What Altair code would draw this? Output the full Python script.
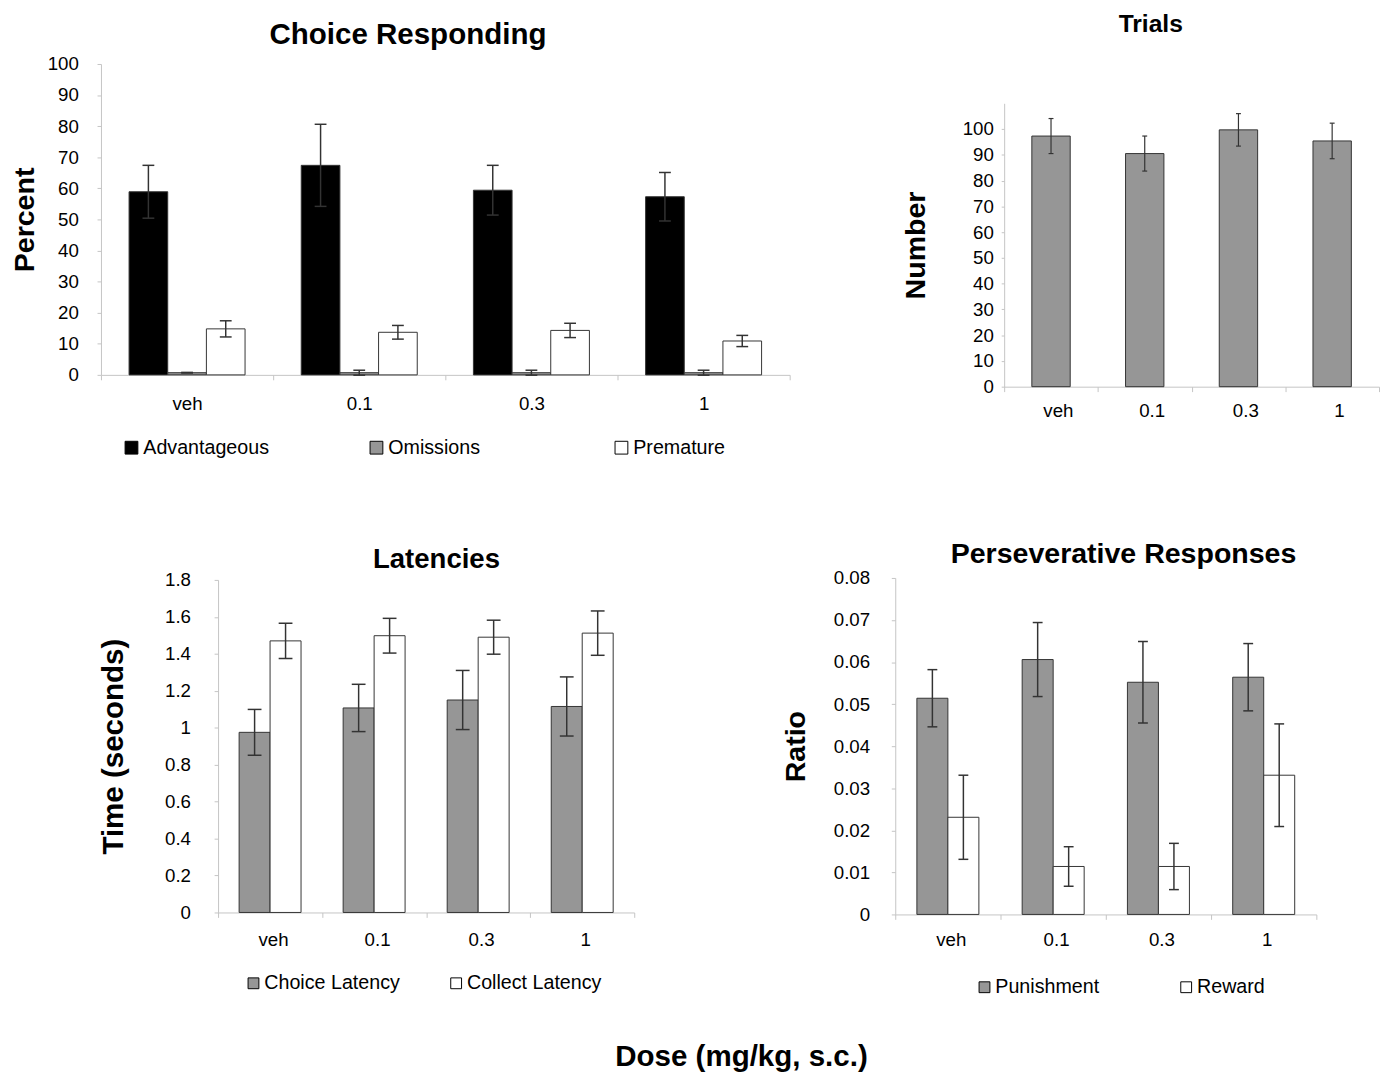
import altair as alt
import pandas as pd

doses = ["veh", "0.1", "0.3", "1"]

# Choice Responding (percent)
cr_series = ["Advantageous", "Omissions", "Premature"]
cr_colors = ["#000000", "#969696", "#ffffff"]
adv_mean = [58.9, 67.4, 59.4, 57.3]
adv_sem = [8.5, 13.2, 8.0, 7.8]
omi_mean = [0.7, 0.7, 0.7, 0.7]
omi_sem = [0.1, 0.8, 0.8, 0.8]
pre_mean = [14.8, 13.7, 14.3, 10.9]
pre_sem = [2.6, 2.2, 2.3, 1.8]
cr_yticks = [0, 10, 20, 30, 40, 50, 60, 70, 80, 90, 100]

# Trials (number)
tr_series = ["Trials"]
tr_colors = ["#969696"]
tr_mean = [97.3, 90.5, 99.7, 95.4]
tr_sem = [6.8, 6.8, 6.3, 6.9]
tr_yticks = [0, 10, 20, 30, 40, 50, 60, 70, 80, 90, 100]

# Latencies (seconds)
lat_series = ["Choice Latency", "Collect Latency"]
lat_colors = ["#969696", "#ffffff"]
choice_mean = [0.975, 1.107, 1.150, 1.115]
choice_sem = [0.124, 0.128, 0.160, 0.160]
collect_mean = [1.470, 1.498, 1.490, 1.512]
collect_sem = [0.095, 0.094, 0.092, 0.120]
lat_yticks = [0, 0.2, 0.4, 0.6, 0.8, 1.0, 1.2, 1.4, 1.6, 1.8]

# Perseverative Responses (ratio)
per_series = ["Punishment", "Reward"]
per_colors = ["#969696", "#ffffff"]
pun_mean = [0.0514, 0.0606, 0.0552, 0.0564]
pun_sem = [0.0068, 0.0088, 0.0097, 0.0080]
rew_mean = [0.0231, 0.0114, 0.0114, 0.0331]
rew_sem = [0.0100, 0.0047, 0.0055, 0.0122]
per_yticks = [0, 0.01, 0.02, 0.03, 0.04, 0.05, 0.06, 0.07, 0.08]

FONT = "Liberation Sans"
AXIS_GRAY = "#c4c4c4"
ERR = "#333333"
LABEL_FS = 19


def make_panel(series, means, sems, colors, o):
    rows = []
    for name, m_list, s_list in zip(series, means, sems):
        for d, m, s in zip(doses, m_list, s_list):
            rows.append(dict(dose=d, series=name, mean=m, lo=m - s, hi=m + s))
    df = pd.DataFrame(rows)
    base = alt.Chart(df)

    x = alt.X(
        "dose:N", sort=doses, title=None,
        scale=alt.Scale(paddingInner=0, paddingOuter=0),
        axis=alt.Axis(labelAngle=0, tickBand="extent", tickSize=5,
                      labelPadding=o["xlp"], labelOffset=o["xlo"],
                      domainColor=AXIS_GRAY,
                      tickColor=AXIS_GRAY, labelFont=FONT,
                      labelFontSize=LABEL_FS, labelColor="#000", grid=False),
    )
    xo = alt.XOffset("series:N", sort=series,
                     scale=alt.Scale(paddingInner=0, paddingOuter=o["po"]))
    yscale = alt.Scale(domain=o["ydomain"], nice=False, zero=True)
    yaxis = alt.Axis(values=o["yticks"], format=o["yfmt"], tickSize=o["yts"],
                     labelPadding=o["ylp"], title=o["ytitle"], titleFont=FONT,
                     titleFontSize=o["ytfs"], titleFontWeight="bold",
                     titleColor="#000", titlePadding=o["ytp"],
                     domainColor=AXIS_GRAY, tickColor=AXIS_GRAY,
                     labelFont=FONT, labelFontSize=LABEL_FS, labelColor="#000",
                     grid=False)

    def Y(field):
        return alt.Y(f"{field}:Q", scale=yscale, axis=yaxis, stack=None)

    if o.get("legend"):
        lg = o["legend"]
        legend = alt.Legend(orient="none", legendX=lg["x"], legendY=lg["y"],
                            direction="horizontal", title=None,
                            symbolType="square", symbolSize=lg["ss"],
                            symbolStrokeColor="#000", symbolStrokeWidth=1,
                            labelFont=FONT, labelFontSize=20,
                            labelColor="#000", columnPadding=lg["cp"],
                            gridAlign=lg["ga"], labelOffset=lg["lo"],
                            padding=0)
    else:
        legend = None
    color = alt.Color("series:N", sort=series,
                      scale=alt.Scale(domain=series, range=colors),
                      legend=legend)

    bars = base.mark_bar(stroke="#333333", strokeWidth=1, opacity=1).encode(
        x=x, xOffset=xo, y=Y("mean"), color=color)
    rules = base.mark_rule(color=ERR, strokeWidth=o["ew"], opacity=1).encode(
        x=x, xOffset=xo, y=Y("lo"), y2="hi:Q")
    cap_hi = base.mark_tick(color=ERR, orient="horizontal", size=o["cap"],
                            thickness=o["ew"], opacity=1).encode(
        x=x, xOffset=xo, y=Y("hi"))
    cap_lo = base.mark_tick(color=ERR, orient="horizontal", size=o["cap"],
                            thickness=o["ew"], opacity=1).encode(
        x=x, xOffset=xo, y=Y("lo"))

    return alt.layer(bars, rules, cap_hi, cap_lo).properties(
        width=o["w"], height=o["h"],
        title=alt.TitleParams(text=o["title"], font=FONT, fontSize=o["tfs"],
                              fontWeight="bold", color="#000",
                              anchor="middle", frame="group", dx=o["tdx"],
                              offset=o["toff"]),
    )


def spacer(w, h):
    return alt.Chart(pd.DataFrame({"s": [0]})).mark_point(
        opacity=0, size=1).properties(width=w, height=h)


def indep(c):
    return c.resolve_scale(x="independent", y="independent",
                           xOffset="independent", color="independent"
                           ).resolve_axis(x="independent", y="independent"
                           ).resolve_legend(color="independent")


p1 = make_panel(
    cr_series, [adv_mean, omi_mean, pre_mean], [adv_sem, omi_sem, pre_sem],
    cr_colors,
    dict(w=700, h=316, ydomain=[0, 100], yticks=cr_yticks, yfmt="d", yts=4,
         ylp=19, ytitle="Percent", ytfs=29, ytp=7.5, xlp=15, xlo=0,
         po=0.7265, title="Choice Responding", tfs=30, tdx=-38, toff=5.5,
         cap=12, ew=1.5,
         legend=dict(x=21, y=380, ss=169, cp=99, ga="all", lo=2)))

p2 = make_panel(
    tr_series, [tr_mean], [tr_sem], tr_colors,
    dict(w=381, h=288, ydomain=[0, 110], yticks=tr_yticks, yfmt="d", yts=3,
         ylp=8, ytitle="Number", ytfs=29, ytp=32, xlp=10, xlo=7, po=0.721,
         title="Trials", tfs=25, tdx=-41.5, toff=67.4, cap=5, ew=1.2,
         legend=None))

p3 = make_panel(
    lat_series, [choice_mean, collect_mean], [choice_sem, collect_sem],
    lat_colors,
    dict(w=423, h=338, ydomain=[0, 1.8], yticks=lat_yticks, yfmt=".1~f",
         yts=4, ylp=24, ytitle="Time (seconds)", ytfs=30, ytp=37, xlp=14,
         xlo=3, po=0.68, title="Latencies", tfs=28, tdx=10.5, toff=-3,
         cap=14, ew=1.5,
         legend=dict(x=26, y=400, ss=121, cp=47, ga="each", lo=1)))

p4 = make_panel(
    per_series, [pun_mean, rew_mean], [pun_sem, rew_sem], per_colors,
    dict(w=428, h=342, ydomain=[0, 0.08], yticks=per_yticks, yfmt=".2~f",
         yts=4, ylp=22, ytitle="Ratio", ytfs=29, ytp=23, xlp=12, xlo=3,
         po=0.698, title="Perseverative Responses", tfs=29, tdx=18,
         toff=0.4, cap=10, ew=1.5,
         legend=dict(x=80.7, y=406, ss=121, cp=78, ga="each", lo=1)))

# layout: every group starts with an invisible spacer so that rows and
# columns line up on the panels' outer edges
col1 = indep(alt.vconcat(spacer(1, 8.9), p1, spacing=0))
col2 = indep(alt.vconcat(spacer(1, 1), p2, spacing=0))
inner1 = indep(alt.hconcat(col1, col2, spacing=113))
row1 = indep(alt.hconcat(spacer(1, 1), inner1, spacing=0))

col3 = indep(alt.vconcat(spacer(1, 7.4), p3, spacing=0))
col4 = indep(alt.vconcat(spacer(1, 1), p4, spacing=0))
inner2 = indep(alt.hconcat(col3, col4, spacing=149.3))
row2 = indep(alt.hconcat(spacer(90, 1), inner2, spacing=0))

chart = indep(alt.vconcat(
    row1, row2, spacing=82.4,
    title=alt.TitleParams(text="Dose (mg/kg, s.c.)", orient="bottom",
                          anchor="middle", font=FONT, fontSize=30,
                          fontWeight="bold", color="#000", dx=47.75,
                          offset=46.5),
)).properties(
    padding={"top": -5.9, "left": 1.5, "right": 0, "bottom": 0}
).configure_view(strokeWidth=0)

chart.save("out.html", embed_options={"renderer": "svg", "actions": False})
